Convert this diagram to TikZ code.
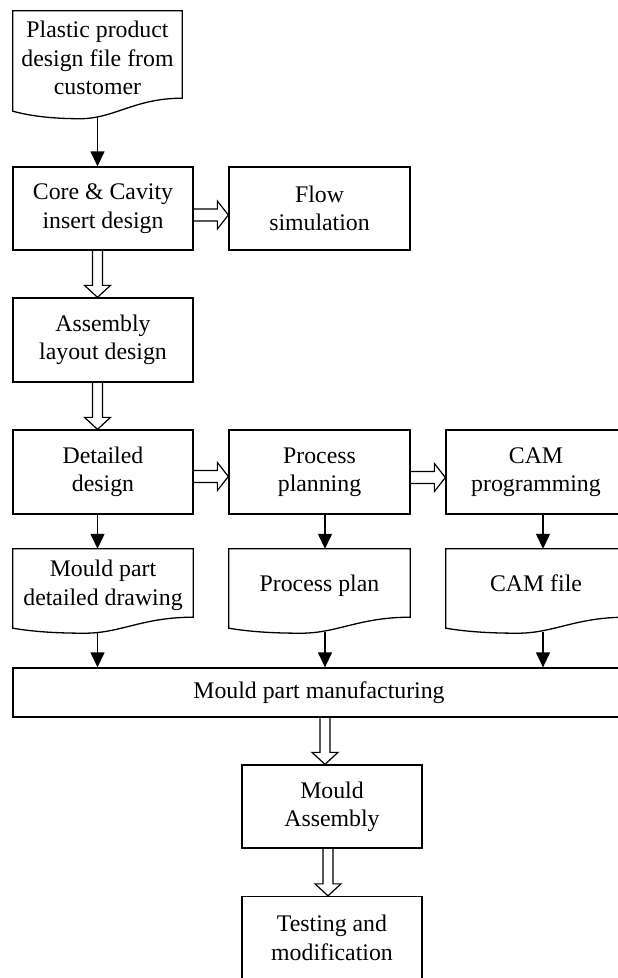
\documentclass[tikz,border=0pt]{standalone}
\usepackage{fontspec}
\setmainfont{Liberation Serif}
\usetikzlibrary{calc,arrows.meta}

\tikzset{
  txt/.style={font=\fontsize{23.8}{28.4}\selectfont, align=center, inner sep=0pt},
  box/.style={txt, draw, line width=1.3pt, rectangle},
  docbox/.style={txt, rectangle},
  shp/.style={line width=1.3pt, line join=miter},
  arr/.style={line width=1.3pt, -{Triangle[length=15pt,width=14pt]}},
  hollow/.style={line width=1.2pt, line join=miter},
}

% document outline: #1 node, #2 width, #3 wave depth, #4 rise of right corner
\newcommand\docoutline[4]{%
  \draw[shp] let \p1=(#1.south west), \p2=(#1.north east) in
    (\x2,\y1+#4pt) -- (\x2,\y2) -- (\x1,\y2) -- (\x1,\y1)
    .. controls (\x1+0.12*#2pt,\y1-0.73*#3pt) and (\x1+0.25*#2pt,\y1-#3pt) .. (\x1+0.4*#2pt,\y1-#3pt)
    .. controls (\x1+0.6*#2pt,\y1-#3pt) and (\x1+0.72*#2pt,\y1+#4pt) .. (\x2,\y1+#4pt) -- cycle;}

% outlined block arrows
\newcommand\hollowdown[2]{%
  \draw[hollow] let \p1=(#1), \p2=(#2) in
    (\x1-5pt,\y1) -- (\x1-5pt,\y2+12pt) -- (\x1-13pt,\y2+12pt) -- (\x1,\y2)
    -- (\x1+13pt,\y2+12pt) -- (\x1+5pt,\y2+12pt) -- (\x1+5pt,\y1);}
\newcommand\hollowright[2]{%
  \draw[hollow] let \p1=(#1), \p2=(#2) in
    (\x1,\y1+6pt) -- (\x2-11pt,\y1+6pt) -- (\x2-11pt,\y1+14pt) -- (\x2,\y1)
    -- (\x2-11pt,\y1-14pt) -- (\x2-11pt,\y1-6pt) -- (\x1,\y1-6pt);}

\begin{document}
\begin{tikzpicture}[x=1pt, y=-1pt]
\useasboundingbox (0,0) rectangle (618,978);
\clip (0,0) rectangle (618,978);

% column guide lines for the connectors
\coordinate (c1) at (97.5,0);
\coordinate (c2) at (325,0);
\coordinate (c3) at (543,0);

% nodes
\node[docbox, minimum width=169pt, minimum height=100pt, text depth=6pt] (doc1) at (97.5,61)
  {Plastic product\\design file from\\customer};
\node[box, minimum width=180pt, minimum height=83pt] (core) at (103,208.5)
  {Core \& Cavity\\insert design};
\node[box, minimum width=181pt, minimum height=83pt] (flow) at (319.5,208.5)
  {Flow\\simulation};
\node[box, minimum width=180pt, minimum height=84pt] (asm) at (103,340)
  {Assembly\\layout design};
\node[box, minimum width=180pt, minimum height=84pt] (det) at (103,472)
  {Detailed\\design};
\node[box, minimum width=181pt, minimum height=84pt] (proc) at (319.5,472)
  {Process\\planning};
\node[box, minimum width=180pt, minimum height=84pt] (cam) at (536,472)
  {CAM\\programming};
\node[docbox, minimum width=180pt, minimum height=79pt, text depth=11.5pt] (dmould) at (103,588.5)
  {Mould part\\detailed drawing};
\node[docbox, minimum width=181pt, minimum height=79pt, text depth=11.5pt] (dproc) at (319.5,588.5)
  {Process plan};
\node[docbox, minimum width=180pt, minimum height=79pt, text depth=11.5pt] (dcam) at (536,588.5)
  {CAM file};
\node[box, minimum width=612pt, minimum height=49pt] (manuf) at (319,692.5)
  {Mould part manufacturing};
\node[box, minimum width=180pt, minimum height=83pt] (masm) at (332,806.5)
  {Mould\\Assembly};
\node[box, minimum width=180pt, minimum height=83pt] (test) at (332,938)
  {Testing and\\modification};

% document shapes
\docoutline{doc1}{169}{7.5}{13}
\docoutline{dmould}{180}{5}{11}
\docoutline{dproc}{181}{5}{11}
\docoutline{dcam}{180}{5}{11}

% solid connectors
\draw[arr] ($(doc1.south -| c1)+(0,6)$) -- (core.north -| c1);
\draw[arr] (det.south -| c1) -- (dmould.north -| c1);
\draw[arr] (proc.south -| c2) -- (dproc.north -| c2);
\draw[arr] (cam.south -| c3) -- (dcam.north -| c3);
\draw[arr] ($(dmould.south -| c1)+(0,4)$) -- (manuf.north -| c1);
\draw[arr] ($(dproc.south -| c2)+(0,4)$) -- (manuf.north -| c2);
\draw[arr] ($(dcam.south -| c3)+(0,4)$) -- (manuf.north -| c3);

% block arrows
\hollowright{$(core.east)+(0,6.5)$}{$(flow.west)+(0,6.5)$}
\hollowdown{core.south -| c1}{asm.north -| c1}
\hollowdown{asm.south -| c1}{det.north -| c1}
\hollowright{$(det.east)+(0,4.5)$}{$(proc.west)+(0,4.5)$}
\hollowright{$(proc.east)+(0,5.5)$}{$(cam.west)+(0,5.5)$}
\hollowdown{manuf.south -| c2}{masm.north -| c2}
\hollowdown{$(masm.south)+(-4,0)$}{$(test.north)+(-4,0)$}
\end{tikzpicture}
\end{document}
